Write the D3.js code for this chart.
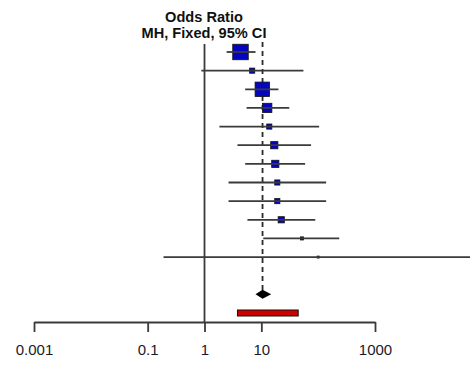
<!DOCTYPE html>
<html>
<head>
    <title>Forest plot</title>
    <script src="https://cdn.jsdelivr.net/npm/d3@7/dist/d3.min.js" type="text/javascript"></script>
    <style type="text/css">
        body { margin: 0; background: #fff; }
        text { font-family: "Liberation Sans", Arial, sans-serif; }
    </style>
</head>
<body>
<div id="chart"></div>
<script type="text/javascript">
    // study rows, top to bottom
    var studies = [1, 2, 3, 4, 5, 6, 7, 8, 9, 10, 11, 12];
    var oddsRatio = [4.3, 6.9, 10.4, 12.7, 13.8, 16.9, 17.6, 19.1, 19.1, 22.4, 52, 100];
    var ciLower = [2.45, 0.88, 5.2, 5.5, 1.83, 3.8, 5.2, 2.65, 2.65, 5.7, 10.8, 0.19];
    var ciUpper = [7.9, 55, 20, 31, 104, 75, 59, 138, 138, 89, 235, 1e6];
    var weights = [30, 3.3, 26, 10.8, 3.3, 6.5, 6.5, 3.3, 3.3, 4.8, 1.2, 0.5]; // percent

    // pooled estimate (MH fixed) and prediction interval
    var pooled = [10.5, 7.9, 14.9]; // est, lo, hi
    var predInterval = [3.8, 44.5];

    var tickValues = [0.001, 0.1, 1, 10, 1000];
    var tickLabels = ["0.001", "0.1", "1", "10", "1000"];

    var width = 470, height = 365;
    var svg = d3.select('#chart').append('svg')
        .attr('width', width)
        .attr('height', height);

    var x = d3.scaleLog().domain([0.001, 1000]).range([34, 375]);
    var y = d3.scaleLinear().domain([0, 14]).range([52, 313]);
    var size = d3.scaleSqrt().domain([0, 30]).range([0, 15.5]);

    var lineColor = '#3a3a3a';

    // title
    svg.append('text')
        .attr('x', 204).attr('y', 22)
        .attr('text-anchor', 'middle')
        .attr('font-size', '14.6px').attr('font-weight', 'bold').attr('fill', '#111')
        .text('Odds Ratio');
    svg.append('text')
        .attr('x', 204).attr('y', 38)
        .attr('text-anchor', 'middle')
        .attr('font-size', '14.6px').attr('font-weight', 'bold').attr('fill', '#111')
        .text('MH, Fixed, 95% CI');

    // axis
    var axis = d3.axisBottom(x)
        .tickValues(tickValues)
        .tickFormat(function(d, i) { return tickLabels[i]; })
        .tickSize(10)
        .tickSizeOuter(0)
        .tickPadding(12);
    var ax = svg.append('g')
        .attr('transform', 'translate(0,' + 322 + ')')
        .call(axis);
    ax.selectAll('path, line').attr('stroke', lineColor).attr('stroke-width', 1.8);
    ax.selectAll('text')
        .attr('font-size', '15px').attr('fill', '#1a1a2a')
        .attr('font-family', '"Liberation Sans", Arial, sans-serif');

    // no-effect line at OR = 1
    svg.append('line')
        .attr('x1', x(1)).attr('x2', x(1))
        .attr('y1', 44).attr('y2', 322)
        .attr('stroke', lineColor).attr('stroke-width', 1.8);

    // pooled estimate dashed line
    svg.append('line')
        .attr('x1', x(pooled[0])).attr('x2', x(pooled[0]))
        .attr('y1', 42).attr('y2', 290)
        .attr('stroke', '#2a2a2a').attr('stroke-width', 1.8)
        .attr('stroke-dasharray', '5,4');

    var rows = studies.map(function(s, i) {
        return {id: s, or: oddsRatio[i], lo: ciLower[i], hi: ciUpper[i], w: weights[i], row: i};
    });

    // boxes
    svg.selectAll('rect.box')
        .data(rows)
        .enter().append('rect')
        .attr('class', 'box')
        .attr('x', function(d) { return x(d.or) - size(d.w) / 2; })
        .attr('y', function(d) { return y(d.row) - size(d.w) / 2; })
        .attr('width', function(d) { return size(d.w); })
        .attr('height', function(d) { return size(d.w); })
        .attr('fill', '#0505c0')
        .attr('stroke', '#111')
        .attr('stroke-width', 0.8);

    // confidence intervals (drawn over the boxes)
    svg.selectAll('line.ci')
        .data(rows)
        .enter().append('line')
        .attr('class', 'ci')
        .attr('x1', function(d) { return x(d.lo); })
        .attr('x2', function(d) { return Math.min(x(d.hi), width); })
        .attr('y1', function(d) { return y(d.row); })
        .attr('y2', function(d) { return y(d.row); })
        .attr('stroke', lineColor)
        .attr('stroke-width', 1.8);

    // pooled diamond
    var yd = y(13);
    svg.append('polygon')
        .attr('points', [
            [x(pooled[1]), yd],
            [x(pooled[0]), yd - 4.5],
            [x(pooled[2]), yd],
            [x(pooled[0]), yd + 4.5]
        ].map(function(p) { return p.join(','); }).join(' '))
        .attr('fill', '#000');

    // prediction interval bar
    var yp = y(14);
    svg.append('rect')
        .attr('x', x(predInterval[0]))
        .attr('y', yp - 3)
        .attr('width', x(predInterval[1]) - x(predInterval[0]))
        .attr('height', 6)
        .attr('fill', '#d00000')
        .attr('stroke', '#111')
        .attr('stroke-width', 1);
</script>
</body>
</html>
